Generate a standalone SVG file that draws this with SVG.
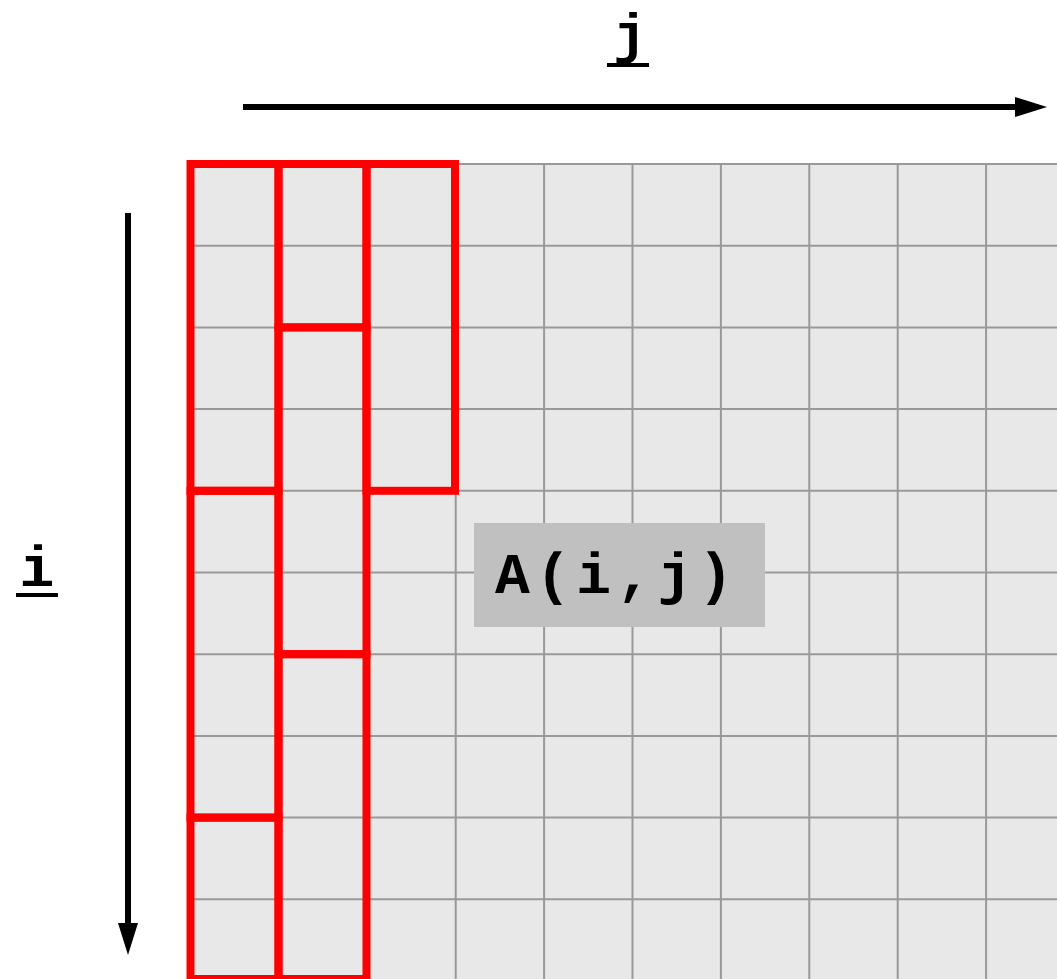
<svg xmlns="http://www.w3.org/2000/svg" width="1057" height="979" viewBox="0 0 1057 979">
  <style>
    .grid { stroke: #999999; stroke-width: 2; fill: none; }
    .blk { stroke: #ff0000; stroke-width: 8; fill: none; }
    .axis { stroke: #000000; stroke-width: 6; fill: none; }
    .ul { stroke: #000000; stroke-width: 4; }
    .lbl { font-family: "Liberation Mono", "DejaVu Sans Mono", monospace; font-weight: bold; fill: #000000; }
  </style>
  <defs>
    <marker id="ah" markerUnits="userSpaceOnUse" markerWidth="32" markerHeight="20" refX="0" refY="10" orient="auto" viewBox="0 0 32 20">
      <polygon points="0,0 32,10 0,20" fill="#000000"/>
    </marker>
  </defs>
  <rect width="1057" height="979" fill="#ffffff"/>
  <g id="matrix">
    <rect x="190" y="164" width="880" height="830" fill="#e8e8e8"/>
    <g class="grid">
      <path d="M190.5,164H1057 M190.5,245.7H1057 M190.5,327.4H1057 M190.5,409.1H1057 M190.5,490.8H1057 M190.5,572.5H1057 M190.5,654.2H1057 M190.5,735.9H1057 M190.5,817.6H1057 M190.5,899.3H1057"/>
      <path d="M278.9,164V979 M367.3,164V979 M455.7,164V979 M544.1,164V979 M632.5,164V979 M720.9,164V979 M809.3,164V979 M897.7,164V979 M986.1,164V979"/>
    </g>
  </g>
  <g id="blocks">
    <rect class="blk" x="190.5" y="164" width="88" height="326.8"/>
    <rect class="blk" x="190.5" y="490.8" width="88" height="326.8"/>
    <rect class="blk" x="190.5" y="817.6" width="88" height="161.4"/>
    <rect class="blk" x="278.5" y="164" width="88" height="163.4"/>
    <rect class="blk" x="278.5" y="327.4" width="88" height="326.8"/>
    <rect class="blk" x="278.5" y="654.2" width="88" height="324.8"/>
    <rect class="blk" x="366.5" y="164" width="88.5" height="326.8"/>
  </g>
  <g id="connectors">
    <line class="axis" x1="243" y1="107" x2="1015" y2="107" marker-end="url(#ah)"/>
    <line class="axis" x1="128" y1="213" x2="128" y2="923" marker-end="url(#ah)"/>
  </g>
  <g id="label-j">
    <text class="lbl" x="630" y="52" font-size="56" text-anchor="middle">j</text>
    <line class="ul" x1="607" y1="65" x2="649" y2="65"/>
  </g>
  <g id="label-i">
    <text class="lbl" x="37" y="586" font-size="58" text-anchor="middle">i</text>
    <line class="ul" x1="16" y1="595" x2="58" y2="595"/>
  </g>
  <g id="label-aij">
    <rect x="474" y="523" width="291" height="104" fill="#c0c0c0"/>
    <text class="lbl" x="495" y="593" font-size="58" textLength="238" lengthAdjust="spacing">A(i,j)</text>
  </g>
</svg>
